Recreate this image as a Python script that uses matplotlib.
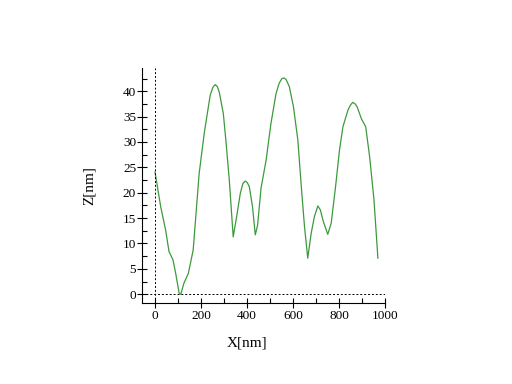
import numpy as np
import matplotlib
matplotlib.use('Agg')
import matplotlib.pyplot as plt
from matplotlib.ticker import MultipleLocator

x_nm = [0, 25, 46, 61, 78, 90, 105, 112, 126, 145, 166, 192, 214, 240, 252, 262,
        271, 279, 297, 308, 323, 340, 355, 371, 382, 392, 401, 410, 424, 436, 446,
        461, 483, 504, 526, 540, 552, 561, 570, 584, 602, 621, 635, 650, 664, 679,
        693, 708, 719, 730, 751, 766, 785, 802, 817, 839, 850, 860, 870, 879, 897,
        916, 933, 952, 969]
z_nm = [24.1, 17.2, 12.7, 8.4, 6.8, 4.1, 0.2, 0.0, 2.2, 4.1, 8.7, 23.8, 31.7, 39.2,
        40.8, 41.3, 40.9, 39.9, 35.6, 30.4, 22.5, 11.3, 15.3, 19.9, 21.8, 22.3,
        22.0, 21.2, 17.2, 11.7, 13.6, 20.9, 26.4, 33.6, 39.5, 41.6, 42.5, 42.6,
        42.3, 40.9, 36.9, 30.4, 21.8, 13.3, 7.1, 12.0, 15.3, 17.4, 16.6, 14.6,
        11.8, 14.0, 21.2, 28.4, 33.0, 36.3, 37.3, 37.8, 37.5, 36.9, 34.6, 33.0,
        27.1, 18.6, 7.1]

plt.rcParams['font.family'] = 'Liberation Serif'

fig = plt.figure(figsize=(5.12, 3.84), dpi=100)
ax = fig.add_axes([0.278, 0.21, 0.474, 0.612])
ax.plot(x_nm, z_nm, color='#3c9a3c', lw=0.9)
ax.axhline(0, color='black', ls=(0, (2, 2)), lw=0.7)
ax.axvline(0, color='black', ls=(0, (2, 2)), lw=0.7)

ax.set_xlim(-55, 1000)
ax.set_ylim(-1.8, 44.5)
ax.spines['top'].set_visible(False)
ax.spines['right'].set_visible(False)
ax.xaxis.set_major_locator(MultipleLocator(200))
ax.xaxis.set_minor_locator(MultipleLocator(100))
ax.yaxis.set_major_locator(MultipleLocator(5))
ax.yaxis.set_minor_locator(MultipleLocator(2.5))
ax.tick_params(which='major', direction='inout', length=7, width=0.8, labelsize=9.5, pad=1)
ax.tick_params(which='minor', direction='in', length=3.5, width=0.8)

fig.text(0.482, 0.108, 'X[nm]', ha='center', va='center', fontsize=11)
fig.text(0.174, 0.516, 'Z[nm]', ha='center', va='center', rotation=90, fontsize=11)

fig.savefig('out.png', dpi=100)
